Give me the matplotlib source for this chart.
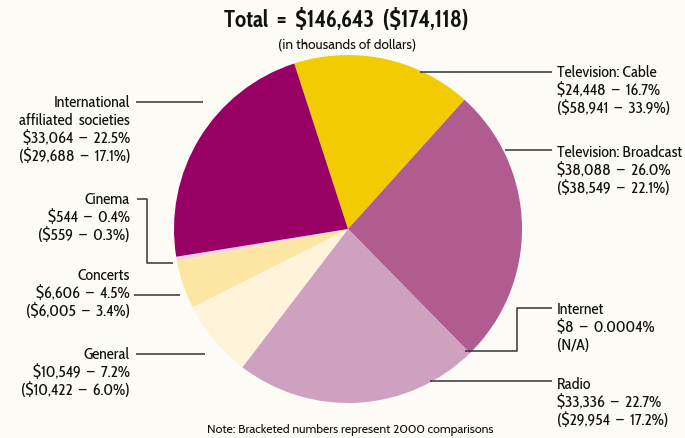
import matplotlib.pyplot as plt
from matplotlib import font_manager

plt.rcParams["text.parse_math"] = False

# Revenue by source (in thousands of dollars), clockwise from the top
categories = ["Television: Cable", "Television: Broadcast", "Internet", "Radio",
              "General", "Concerts", "Cinema", "International\naffiliated  societies"]
values = [24448, 38088, 8, 33336, 10549, 6606, 544, 33064]
pct_labels = ["16.7%", "26.0%", "0.0004%", "22.7%", "7.2%", "4.5%", "0.4%", "22.5%"]
prev_labels = ["($58,941  \u2013  33.9%)", "($38,549  \u2013  22.1%)", "(N/A)",
               "($29,954  \u2013  17.2%)", "($10,422  \u2013  6.0%)",
               "($6,005  \u2013  3.4%)", "($559  \u2013  0.3%)", "($29,688  \u2013  17.1%)"]
colors = ["#F2CC00", "#B05C90", "#B05C90", "#CFA1C0", "#FFF3DC", "#FDE5A3", "#EBD3E0", "#990066"]

total_now = 146643
total_prev = 174118

bg = "#FCFBF6"
installed = {f.name for f in font_manager.fontManager.ttflist}


def pick(cands):
    for c in cands:
        if c in installed:
            return c
    return "DejaVu Sans"


cond = pick(["Cabin Condensed", "Fira Sans Condensed", "IBM Plex Sans Condensed",
             "Roboto Condensed", "Liberation Sans Narrow"])
plain = pick(["Gill Sans", "Cabin", "Lato", "Liberation Sans"])

W, H = 685, 439
fig = plt.figure(figsize=(W / 100, H / 100), dpi=100, facecolor=bg)

# pie axes: centre (348, 230) px, radius 174 px
cx, cy, r = 348, 230, 174
pax = fig.add_axes([(cx - r) / W, (H - cy - r) / H, 2 * r / W, 2 * r / H])
pax.pie(values, colors=colors, startangle=108, counterclock=False,
        wedgeprops=dict(linewidth=0))
pax.set_xlim(-1, 1)
pax.set_ylim(-1, 1)
pax.set_aspect("equal")
pax.axis("off")

# overlay axes in pixel coordinates for text and leader lines
ax = fig.add_axes([0, 0, 1, 1], facecolor="none")
ax.set_xlim(0, W)
ax.set_ylim(H, 0)
ax.axis("off")

ax.text(346, 21, f"Total  =  ${total_now:,}  (${total_prev:,})", ha="center", va="center",
        fontsize=16.5, fontweight="bold", family=cond, color="#111111")
ax.text(347, 45, "(in thousands of dollars)", ha="center", va="center",
        fontsize=9.8, family=plain, color="#111111")
ax.text(350, 430, "Note: Bracketed numbers represent 2000 comparisons", ha="center", va="center",
        fontsize=8.8, family=plain, color="#111111")


def label_text(i):
    return f"{categories[i]}\n${values[i]:,}  \u2013  {pct_labels[i]}\n{prev_labels[i]}"


# (x, y_top, ha) for each label
label_pos = {0: (557, 65, "left"), 1: (557, 145, "left"), 2: (557, 302, "left"),
             3: (557, 377, "left"), 4: (130, 347, "right"), 5: (130, 268, "right"),
             6: (130, 192, "right"), 7: (130, 95, "right")}
for i, (x, y, ha) in label_pos.items():
    ax.text(x, y, label_text(i), ha=ha, va="top", fontsize=11.6, family=cond,
            linespacing=1.16, color="#111111")

lc = "#333333"
lw = 1.1
leaders = [
    [(420, 73), (552, 73)],
    [(505, 151), (552, 151)],
    [(552, 309), (517, 309), (517, 352), (465, 352)],
    [(430, 382), (552, 382)],
    [(136, 355), (205, 355)],
    [(134, 296), (180, 296)],
    [(137, 200), (147, 200), (147, 264), (173, 264)],
    [(136, 103), (203, 103)],
]
for pts in leaders:
    xs, ys = zip(*pts)
    ax.plot(xs, ys, color=lc, lw=lw, solid_capstyle="butt")

fig.savefig("out.png", dpi=100, facecolor=bg)
